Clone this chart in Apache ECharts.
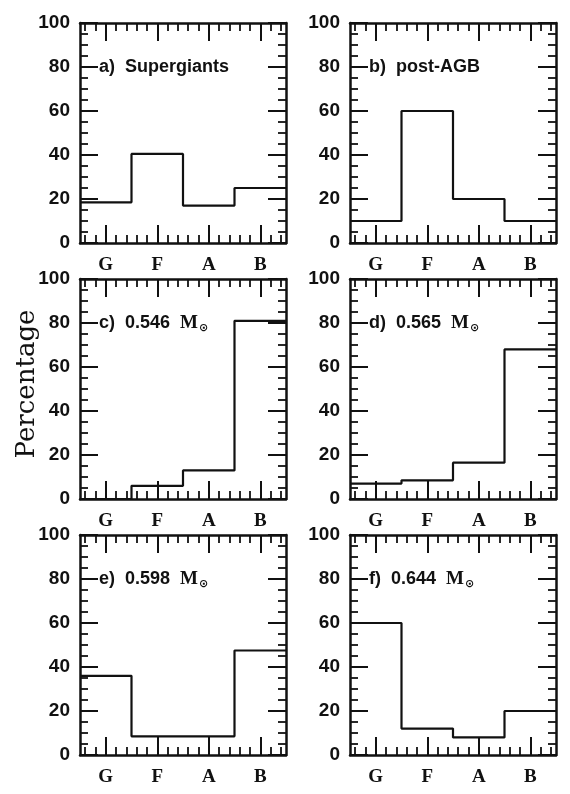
<!DOCTYPE html>
<html>
<head>
<meta charset="utf-8">
<script src="https://cdn.jsdelivr.net/npm/echarts@6/dist/echarts.min.js"></script>
<style>
html,body{margin:0;padding:0;background:#fff;}
#chart{width:570px;height:794px;}
</style>
</head>
<body>
<div id="chart"></div>
<script>
// ---- data ----
const categories = ['G', 'F', 'A', 'B'];
const yTickValues = [0, 20, 40, 60, 80, 100];
const supergiants = [18.5, 40.5, 17, 25];
const postAGB = [10, 60, 20, 10];
const m0546 = [0, 6, 13, 81];
const m0565 = [7, 8.5, 16.5, 68];
const m0598 = [36, 8.5, 8.5, 47.5];
const m0644 = [60, 12, 8, 20];
const panelTags = ['a)', 'b)', 'c)', 'd)', 'e)', 'f)'];
const panelNames = ['Supergiants', 'post-AGB', '0.546', '0.565', '0.598', '0.644'];
const panelHasMass = [false, false, true, true, true, true];
const yAxisName = 'Percentage';

// ---- layout ----
const panels = [supergiants, postAGB, m0546, m0565, m0598, m0644];
const colLeft = [80, 350];
const rowTop = [23, 279, 535];
const W = 206, H = 220;
const INK = '#111';

const grids = [], xAxes = [], yAxes = [], series = [], graphics = [];
const minorCats = Array.from({length: 20}, (_, i) => 'm' + i);

panels.forEach((vals, p) => {
  const left = colLeft[p % 2], top = rowTop[Math.floor(p / 2)];
  grids.push({left: left, top: top, width: W, height: H, containLabel: false});
  const base = xAxes.length;
  const lineOn = {show: true, onZero: false, lineStyle: {color: INK, width: 2.5}};
  const lineOff = {show: false, onZero: false};
  // value axis for the series (bottom frame)
  xAxes.push({type: 'value', gridIndex: p, position: 'bottom', min: 0.5, max: 4.5,
    axisLine: lineOn, axisTick: {show: false}, axisLabel: {show: false}, splitLine: {show: false}});
  // major ticks + labels, bottom
  xAxes.push({type: 'category', gridIndex: p, position: 'bottom', data: categories, boundaryGap: true,
    axisLine: lineOff,
    axisTick: {show: true, inside: true, length: 18, alignWithLabel: true, interval: 0, lineStyle: {color: INK, width: 2}},
    axisLabel: {show: true, interval: 0, margin: 13, color: INK, fontFamily: 'Liberation Serif', fontWeight: 'bold', fontSize: 19},
    splitLine: {show: false}});
  // minor ticks bottom
  xAxes.push({type: 'category', gridIndex: p, position: 'bottom', data: minorCats, boundaryGap: true,
    axisLine: lineOff,
    axisTick: {show: true, inside: true, length: 8, alignWithLabel: true, interval: 0, lineStyle: {color: INK, width: 1.8}},
    axisLabel: {show: false}, splitLine: {show: false}});
  // major ticks top
  xAxes.push({type: 'category', gridIndex: p, position: 'top', data: categories, boundaryGap: true,
    axisLine: lineOn,
    axisTick: {show: true, inside: true, length: 18, alignWithLabel: true, interval: 0, lineStyle: {color: INK, width: 2}},
    axisLabel: {show: false}, splitLine: {show: false}});
  // minor ticks top
  xAxes.push({type: 'category', gridIndex: p, position: 'top', data: minorCats, boundaryGap: true,
    axisLine: lineOff,
    axisTick: {show: true, inside: true, length: 8, alignWithLabel: true, interval: 0, lineStyle: {color: INK, width: 1.8}},
    axisLabel: {show: false}, splitLine: {show: false}});

  const yb = yAxes.length;
  [['left', true], ['right', false]].forEach(([pos, lab]) => {
    yAxes.push({type: 'value', gridIndex: p, position: pos, min: 0, max: 100, interval: 20,
      axisLine: {show: true, onZero: false, lineStyle: {color: INK, width: 2.5}},
      axisTick: {show: true, inside: true, length: 18, lineStyle: {color: INK, width: 2}},
      minorTick: {show: true, splitNumber: 4, length: 8, lineStyle: {color: INK, width: 1.8}},
      axisLabel: {show: lab, margin: 10, color: INK, fontFamily: 'Liberation Sans', fontWeight: 'bold', fontSize: 19,
        customValues: yTickValues},
      splitLine: {show: false}});
  });

  // step histogram: bin edges at category index +/- 0.5
  const data = vals.map((v, i) => [i + 0.5, v]);
  data.push([vals.length + 0.5, vals[vals.length - 1]]);
  series.push({type: 'line', xAxisIndex: base, yAxisIndex: yb, step: 'end', data: data,
    symbol: 'none', silent: true, animation: false,
    lineStyle: {color: INK, width: 2.2}});

  // panel label
  const tagText = panelTags[p] + '  ' + panelNames[p] + (panelHasMass[p] ? '  ' : '');
  const richText = panelHasMass[p] ? '{t|' + tagText + '}{m|M}{s|⊙}' : '{t|' + tagText + '}';
  graphics.push({type: 'text', x: left + 19, y: top + H * 0.2, silent: true,
    style: {text: richText, textVerticalAlign: 'middle', textAlign: 'left',
      rich: {
        t: {fontFamily: 'Liberation Sans', fontWeight: 'bold', fontSize: 18, fill: INK, lineHeight: 22},
        m: {fontFamily: 'Liberation Serif', fontWeight: 'bold', fontSize: 19, fill: INK, lineHeight: 22},
        s: {fontFamily: 'DejaVu Sans', fontWeight: 'bold', fontSize: 11, fill: INK, lineHeight: 14, verticalAlign: 'bottom', padding: [0, 0, 0, 1]}
      }}});
});

graphics.push({type: 'text', x: 27, y: 384, rotation: Math.PI / 2, silent: true,
  style: {text: yAxisName, fontFamily: 'DejaVu Serif', fontSize: 26, fill: INK,
    textAlign: 'center', textVerticalAlign: 'middle'}});

const chart = echarts.init(document.getElementById('chart'), null, {renderer: 'canvas'});
chart.setOption({
  backgroundColor: '#fff',
  animation: false,
  grid: grids,
  xAxis: xAxes,
  yAxis: yAxes,
  series: series,
  graphic: graphics
});
</script>
</body>
</html>
